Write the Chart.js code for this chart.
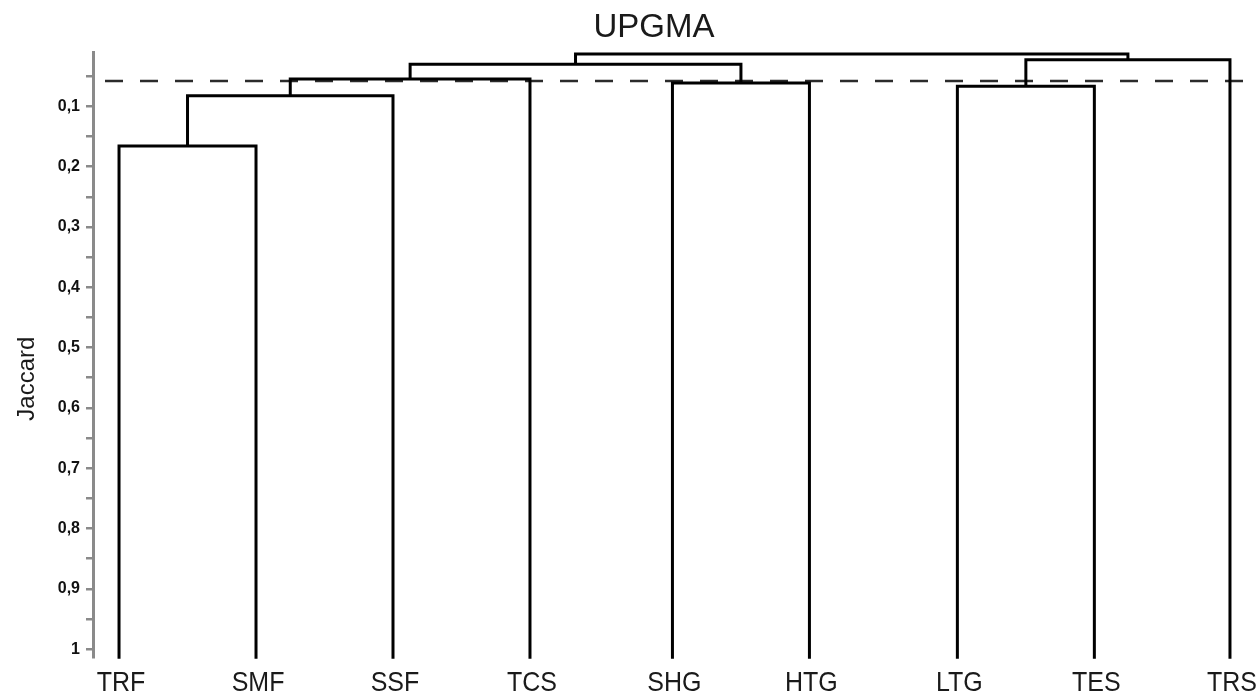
<!DOCTYPE html>
<html>
<head>
<meta charset="utf-8">
<script src="https://cdn.jsdelivr.net/npm/chart.js@4/dist/chart.umd.min.js"></script>
<style>
  html, body { margin: 0; padding: 0; background: #fff; }
  #wrap { width: 1256px; height: 698px; }
</style>
</head>
<body>
<div id="wrap"><canvas id="dendro"></canvas></div>
<script>
// leaves, left to right
const leafNames = ['TRF', 'SMF', 'SSF', 'TCS', 'SHG', 'HTG', 'LTG', 'TES', 'TRS'];
const leafPos = [0, 1, 2, 3, 4.04, 5.04, 6.12, 7.12, 8.11];

// merges: node ids 0-8 are leaves, merge i creates node 9 + i
const mergeLeft = [0, 9, 10, 4, 11, 6, 14, 13];
const mergeRight = [1, 2, 3, 5, 12, 7, 8, 15];
const mergeHeight = [0.166, 0.0826, 0.0548, 0.0614, 0.0304, 0.0668, 0.0227, 0.0134];

const cutHeight = 0.058;
const leafBase = 1.016;
const yTicks = [0.05, 0.1, 0.15, 0.2, 0.25, 0.3, 0.35, 0.4, 0.45, 0.5,
  0.55, 0.6, 0.65, 0.7, 0.75, 0.8, 0.85, 0.9, 0.95, 1];

const FONT = "'Liberation Sans', Arial, sans-serif";

// x position + height of every node
const nodeX = leafPos.slice();
const nodeH = leafPos.map(() => leafBase);
mergeLeft.forEach((a, i) => {
  const b = mergeRight[i];
  nodeX.push((nodeX[a] + nodeX[b]) / 2);
  nodeH.push(mergeHeight[i]);
});

const datasets = mergeLeft.map((a, i) => {
  const b = mergeRight[i];
  const h = mergeHeight[i];
  return {
    data: [
      { x: nodeX[a], y: nodeH[a] },
      { x: nodeX[a], y: h },
      { x: nodeX[b], y: h },
      { x: nodeX[b], y: nodeH[b] },
    ],
    borderColor: '#000',
    borderWidth: 3,
    borderJoinStyle: 'miter',
    pointRadius: 0,
    tension: 0,
    clip: false,
  };
});

const X_MIN = -0.19, X_MAX = 8.3;

datasets.push({
  data: [{ x: X_MIN, y: cutHeight }, { x: X_MAX, y: cutHeight }],
  borderColor: '#2b2b2b',
  borderWidth: 2.5,
  borderDash: [18, 17],
  borderDashOffset: -12,
  pointRadius: 0,
});

const textPlugin = {
  id: 'texts',
  afterDraw(chart) {
    const { ctx, chartArea, scales } = chart;
    ctx.save();
    ctx.fillStyle = '#1a1a1a';
    ctx.textAlign = 'center';
    // title
    ctx.font = '33px ' + FONT;
    ctx.textBaseline = 'alphabetic';
    ctx.fillText('UPGMA', 654, 37);
    // y title
    ctx.save();
    ctx.translate(27, chartArea.top + (chartArea.bottom - chartArea.top) * 0.54);
    ctx.rotate(-Math.PI / 2);
    ctx.font = '24px ' + FONT;
    ctx.textBaseline = 'middle';
    ctx.fillText('Jaccard', 0, 0);
    ctx.restore();
    // leaf labels (slightly tall glyphs as in the original)
    ctx.font = '25px ' + FONT;
    leafNames.forEach((name, i) => {
      const px = scales.x.getPixelForValue(leafPos[i]) + 2;
      ctx.save();
      ctx.translate(px, 691);
      ctx.scale(1, 1.12);
      ctx.fillText(name, 0, 0);
      ctx.restore();
    });
    ctx.restore();
  },
};

new Chart(document.getElementById('dendro'), {
  type: 'line',
  data: { datasets },
  options: {
    responsive: true,
    maintainAspectRatio: false,
    animation: false,
    layout: { padding: { top: 52, bottom: 41, left: 0, right: 0 } },
    plugins: { legend: { display: false }, tooltip: { enabled: false }, title: { display: false } },
    scales: {
      x: { type: 'linear', min: X_MIN, max: X_MAX, display: false },
      y: {
        type: 'linear',
        reverse: true,
        min: 0.01,
        max: 1.013,
        afterBuildTicks: (axis) => { axis.ticks = yTicks.map((v) => ({ value: v })); },
        afterFit: (axis) => { axis.width = 93; },
        border: { display: true, color: '#8a8a8a', width: 3 },
        grid: { drawOnChartArea: false, drawTicks: true, tickLength: 7, color: '#8a8a8a', lineWidth: 2.5 },
        ticks: {
          autoSkip: false,
          padding: 6,
          color: '#111',
          font: { family: FONT, size: 16, weight: 'bold' },
          callback: (v) => {
            if (Math.round(v * 100) % 10 !== 0) return '';
            return v === 1 ? '1' : v.toFixed(1).replace('.', ',');
          },
        },
      },
    },
  },
  plugins: [textPlugin],
});
</script>
</body>
</html>
